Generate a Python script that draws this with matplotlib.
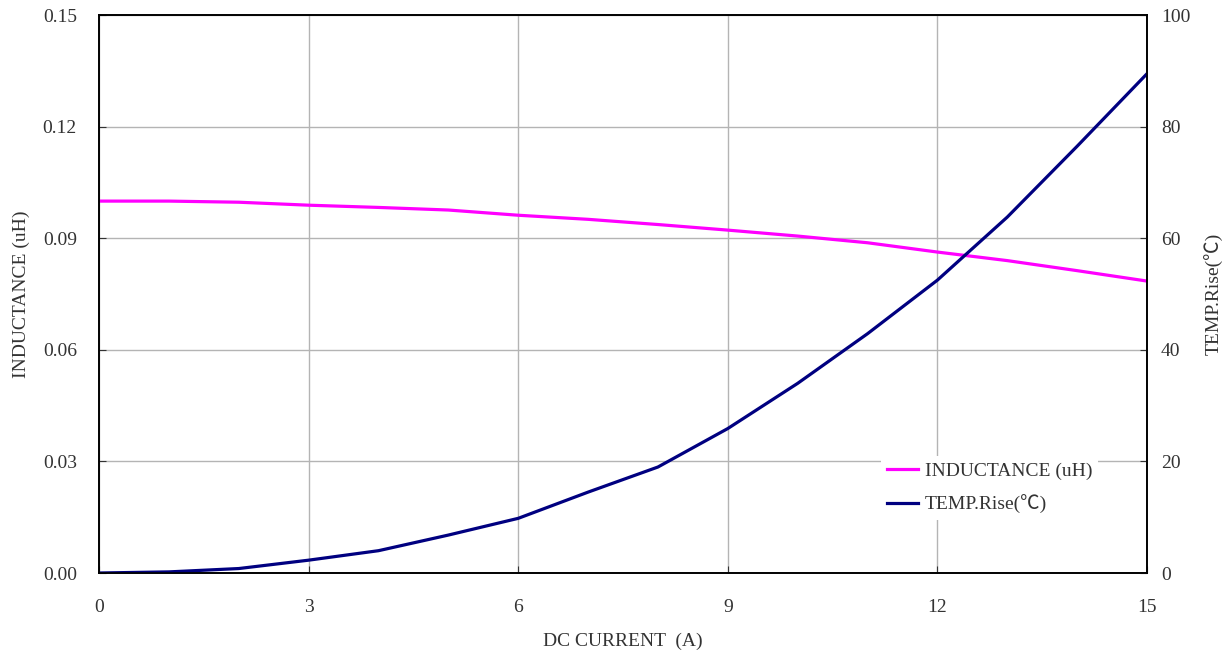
import matplotlib.pyplot as plt

plt.rcParams['font.family'] = ['Liberation Serif', 'Noto Sans CJK TC', 'DejaVu Sans']

corriente = [0, 1, 2, 3, 4, 5, 6, 7, 8, 9, 10, 11, 12, 13, 14, 15]
inductancia = [0.1000, 0.1000, 0.0997, 0.0989, 0.0983, 0.0976, 0.0962, 0.0951,
               0.0937, 0.0922, 0.0906, 0.0888, 0.0863, 0.0840, 0.0813, 0.0785]
temperatura = [0, 0.2, 0.8, 2.3, 4.0, 6.8, 9.8, 14.5, 19.0, 25.9, 34.0, 42.9,
               52.5, 63.8, 76.5, 89.5]

x_ticks = [0, 3, 6, 9, 12, 15]
l_ticks = [0.00, 0.03, 0.06, 0.09, 0.12, 0.15]
r_ticks = [0, 20, 40, 60, 80, 100]

fig = plt.figure(figsize=(12.32, 6.59), dpi=100)
ax = fig.add_axes([0.0804, 0.1305, 0.8506, 0.8465])
ax2 = ax.twinx()

l1, = ax.plot(corriente, inductancia, color='#ff00ff', lw=2.3, label='INDUCTANCE (uH)')
l2, = ax2.plot(corriente, temperatura, color='#000080', lw=2.3, label='TEMP.Rise(℃)')

ax.set_xlim(0, 15)
ax.set_ylim(0, 0.15)
ax2.set_ylim(0, 100)
ax.set_xticks(x_ticks)
ax.set_yticks(l_ticks)
ax.set_yticklabels([f'{v:.2f}' for v in l_ticks])
ax2.set_yticks(r_ticks)
ax.grid(True, color='#b4b4b4', lw=1)
ax.set_axisbelow(True)

for a in (ax, ax2):
    a.tick_params(direction='in', length=5, labelsize=14, colors='#333333')
    for s in a.spines.values():
        s.set_color('black')
        s.set_linewidth(1.2)
ax.tick_params(axis='x', pad=19)
ax.tick_params(axis='y', pad=16)
ax2.tick_params(axis='y', pad=10)

ax.set_xlabel('DC CURRENT  (A)', fontsize=14, color='#333333', labelpad=12)
ax.set_ylabel('INDUCTANCE (uH)', fontsize=14, color='#333333', labelpad=9)
ax2.set_ylabel('TEMP.Rise(℃)', fontsize=14, color='#333333', labelpad=10)

leg = ax2.legend(handles=[l1, l2], loc='upper left', bbox_to_anchor=(0.746, 0.209),
                 frameon=True, fontsize=14, handlelength=1.6, handletextpad=0.35,
                 labelspacing=0.76, borderpad=0.3, borderaxespad=0)
leg.get_frame().set_edgecolor('none')
leg.get_frame().set_facecolor('white')
leg.get_frame().set_alpha(1)
for t in leg.get_texts():
    t.set_color('#333333')

fig.savefig('out.png', dpi=100)
